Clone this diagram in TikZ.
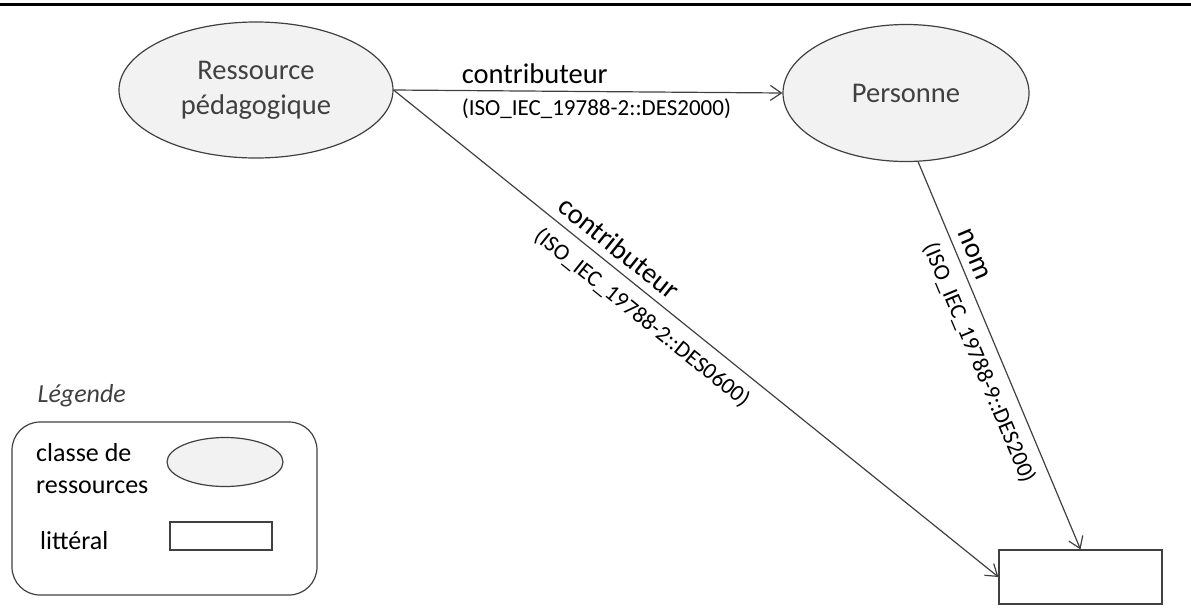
\documentclass[tikz,border=0pt]{standalone}
\usepackage{fontspec}
\setmainfont{Carlito}
\usetikzlibrary{arrows.meta, positioning, shapes.geometric}
\definecolor{fondclasse}{HTML}{F2F2F2}
\definecolor{trait}{HTML}{404040}
\newcommand{\grand}{\fontsize{28.5}{35}\selectfont}
\newcommand{\moyen}{\fontsize{26}{32}\selectfont}
\newcommand{\petit}{\fontsize{23}{28}\selectfont}

\begin{document}
\begin{tikzpicture}[x=1pt, y=-1pt, >={Straight Barb[length=11pt,width=15pt]},
  classe/.style={ellipse, draw=trait, line width=1.2pt, fill=fondclasse, text=trait, font=\grand, align=center, inner sep=0pt},
  litteral/.style={rectangle, draw=trait, line width=1.2pt, fill=white, inner sep=0pt},
  lien/.style={->, draw=trait, line width=1.2pt},
  propriete/.style={font=\grand, text=black, inner xsep=0pt, inner ysep=6pt},
  reference/.style={font=\petit, text=black, inner xsep=0pt, inner ysep=8pt}]
  \useasboundingbox (0,0) rectangle (1191,614);
  % Top rule
  \coordinate (hg) at (0,4);
  \coordinate (hd) at (1191,4);
  \draw[line width=3pt] (hg) -- (hd);
  % Nodes
  \node (res) [classe, minimum width=274pt, minimum height=136pt] at (256,90) {Ressource\\p\'edagogique};
  \node (pers) [classe, minimum width=246pt, minimum height=137pt] at (906,93) {Personne};
  \node (lit) [litteral, minimum width=163pt, minimum height=54pt] at (1080.5,577) {};
  % Edges
  \draw[lien] (res.east) -- (pers.west)
    node[propriete, pos=0.174, anchor=south west] {contributeur}
    node[reference, pos=0.174, anchor=north west] {(ISO\_IEC\_19788-2::DES2000)};
  \draw[lien] (res.east) -- (lit.west)
    node[propriete, sloped, pos=0.259, anchor=south west, inner ysep=8pt] {contributeur}
    node[reference, sloped, pos=0.259, anchor=north west, inner ysep=11pt] {(ISO\_IEC\_19788-2::DES0600)};
  \draw[lien] (pers.-80) -- (lit.north)
    node[propriete, sloped, pos=0.19, anchor=south west, inner ysep=8pt] {nom}
    node[reference, sloped, pos=0.19, anchor=north west, inner ysep=11pt] {(ISO\_IEC\_19788-9::DES200)};
  % Legend
  \node (cadre) [draw=trait, line width=1.2pt, rounded corners=28pt, minimum width=305pt, minimum height=173pt] at (164.5,508.5) {};
  \node (titre) [font=\itshape\moyen, text=trait, inner sep=0pt, above right=14pt and 26pt of cadre.north west] {L\'egende};
  \node (lclasse) [classe, minimum width=116pt, minimum height=49pt] at (225,462) {};
  \node (llit) [litteral, minimum width=102pt, minimum height=28pt] at (221,536) {};
  \node (tclasse) [font=\moyen, align=left, anchor=west, inner sep=0pt] at (36,469) {classe de\\ressources};
  \node (tlit) [font=\moyen, anchor=west, inner sep=0pt] at (40,541) {litt\'eral};
\end{tikzpicture}
\end{document}
